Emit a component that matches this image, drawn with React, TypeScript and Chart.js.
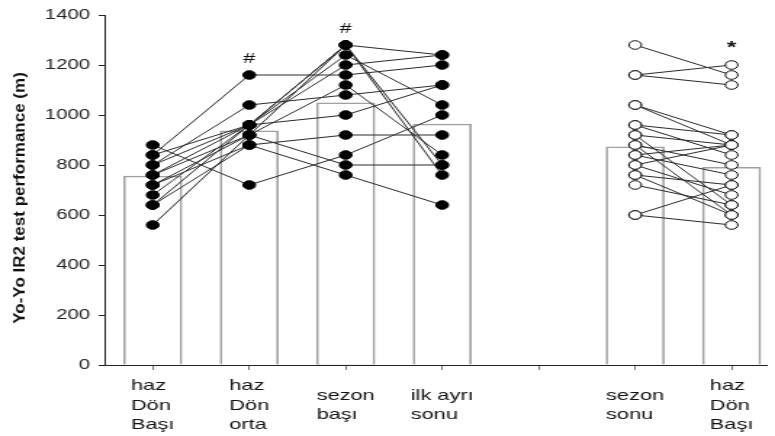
import React, { useEffect, useRef } from 'react';
import { Chart, registerables } from 'chart.js';

Chart.register(...registerables);

// ---------- data ----------
const categoryLabels: string[][] = [
  ['haz', 'Dön', 'Başı'],
  ['haz', 'Dön', 'orta'],
  ['sezon', 'başı'],
  ['ilk ayrı', 'sonu'],
  [],
  ['sezon', 'sonu'],
  ['haz', 'Dön', 'Başı'],
];
const categoryPositions = [1, 2, 3, 4, 5, 6, 7];
const barMeans: (number | null)[] = [756, 937, 1049, 964, null, 873, 791];

const preseasonTimepoints = [1, 2, 3, 4];
const preseasonSubjects: number[][] = [
  [880, 720, 840, 1000],
  [840, 1160, 1160, 1200],
  [800, 1040, 1080, 1120],
  [840, 960, 1280, 1240],
  [800, 960, 1240, 1040],
  [760, 960, 1200, 1240],
  [760, 920, 1280, 800],
  [720, 920, 1120, 840],
  [680, 960, 1280, 760],
  [640, 880, 920, 920],
  [560, 920, 800, 800],
  [720, 880, 760, 640],
  [640, 960, 1000, 1120],
];

const seasonTimepoints = [6, 7];
const seasonSubjects: number[][] = [
  [1280, 1160],
  [1160, 1200],
  [1160, 1120],
  [1040, 920],
  [1040, 880],
  [960, 920],
  [960, 840],
  [920, 880],
  [920, 640],
  [880, 800],
  [880, 600],
  [840, 880],
  [840, 760],
  [800, 680],
  [800, 880],
  [760, 720],
  [760, 600],
  [720, 640],
  [600, 720],
  [600, 560],
];

const yTickValues = [0, 200, 400, 600, 800, 1000, 1200, 1400];
const markerCategories = [2, 3, 7];
const markerSymbols = ['#', '#', '*'];
const yAxisTitle = 'Yo-Yo IR2 test performance (m)';

// ---------- layout / style ----------
const DISPLAY_W = 775;
const DISPLAY_H = 436;
const SX = 1.45; // horizontal stretch of the reference
const INTERNAL_W = Math.round(DISPLAY_W / SX);
const FONT = '"Liberation Sans", Arial, Helvetica, sans-serif';

function toPoints(xs: number[], ys: number[]) {
  return ys.map((v, i) => ({ x: xs[i], y: v }));
}

const overlayPlugin = {
  id: 'overlay',
  afterDraw(chart: any) {
    const { ctx, chartArea, scales } = chart;
    const xs = scales.x;
    const ys = scales.y;
    ctx.save();
    // category labels
    ctx.font = `15px ${FONT}`;
    ctx.fillStyle = '#111';
    ctx.textAlign = 'left';
    ctx.textBaseline = 'alphabetic';
    const lh = 19.5;
    const centerY = chartArea.bottom + 44.5;
    categoryLabels.forEach((lines, i) => {
      if (!lines.length) return;
      const px = xs.getPixelForValue(categoryPositions[i]);
      const w = Math.max(...lines.map((l) => ctx.measureText(l).width));
      const y0 = centerY - ((lines.length - 1) / 2) * lh;
      lines.forEach((l, j) => ctx.fillText(l, px - w / 2, y0 + j * lh));
    });
    // significance markers
    ctx.textAlign = 'center';
    markerCategories.forEach((cat, i) => {
      const vals: number[] = [];
      preseasonSubjects.forEach((s) => {
        const k = preseasonTimepoints.indexOf(cat);
        if (k >= 0) vals.push(s[k]);
      });
      seasonSubjects.forEach((s) => {
        const k = seasonTimepoints.indexOf(cat);
        if (k >= 0) vals.push(s[k]);
      });
      const top = ys.getPixelForValue(Math.max(...vals));
      const sym = markerSymbols[i];
      ctx.font = sym === '*' ? `bold 17px ${FONT}` : `15px ${FONT}`;
      ctx.fillStyle = '#111';
      ctx.fillText(sym, xs.getPixelForValue(cat), top - 12);
    });
    // y axis title (drawn undistorted)
    ctx.save();
    ctx.translate(13.4, (chartArea.top + chartArea.bottom) / 2 + 8);
    ctx.scale(1 / SX, 1);
    ctx.rotate(-Math.PI / 2);
    ctx.font = `bold 17px ${FONT}`;
    ctx.fillStyle = '#111';
    ctx.textAlign = 'center';
    ctx.textBaseline = 'middle';
    ctx.fillText(yAxisTitle, 0, 0);
    ctx.restore();
    ctx.restore();
  },
};

export default function App() {
  const canvasRef = useRef<HTMLCanvasElement | null>(null);

  useEffect(() => {
    document.body.style.margin = '0';
    const canvas = canvasRef.current;
    if (!canvas) return;

    const barData = barMeans
      .map((v, i) => (v == null ? null : { x: categoryPositions[i], y: v }))
      .filter((p) => p !== null);

    const lineSets: any[] = [];
    preseasonSubjects.forEach((s) => {
      lineSets.push({
        type: 'line',
        data: toPoints(preseasonTimepoints, s),
        borderColor: '#2a2a2a',
        borderWidth: 1,
        pointRadius: 0,
        fill: false,
        order: 2,
      });
    });
    seasonSubjects.forEach((s) => {
      lineSets.push({
        type: 'line',
        data: toPoints(seasonTimepoints, s),
        borderColor: '#2a2a2a',
        borderWidth: 1,
        pointRadius: 0,
        fill: false,
        order: 2,
      });
    });

    const filledPoints: any[] = [];
    preseasonSubjects.forEach((s) => filledPoints.push(...toPoints(preseasonTimepoints, s)));
    const openPoints: any[] = [];
    seasonSubjects.forEach((s) => openPoints.push(...toPoints(seasonTimepoints, s)));

    const chart = new Chart(canvas, {
      type: 'bar',
      data: {
        datasets: [
          {
            type: 'bar',
            data: barData as any,
            backgroundColor: '#ffffff',
            borderColor: '#a0a0a0',
            borderWidth: 1.6,
            barThickness: 40,
            order: 3,
          } as any,
          ...lineSets,
          {
            type: 'line',
            data: filledPoints,
            showLine: false,
            pointRadius: 4.3,
            pointBackgroundColor: '#000',
            pointBorderColor: '#000',
            pointBorderWidth: 1,
            order: 1,
          },
          {
            type: 'line',
            data: openPoints,
            showLine: false,
            pointRadius: 4.3,
            pointBackgroundColor: '#fff',
            pointBorderColor: '#111',
            pointBorderWidth: 1,
            order: 0,
          },
        ],
      },
      options: {
        responsive: false,
        animation: false,
        devicePixelRatio: 1,
        layout: { padding: { top: 15, right: 0, left: 0, bottom: 0 } },
        plugins: {
          legend: { display: false },
          tooltip: { enabled: false },
          title: { display: false },
        },
        scales: {
          x: {
            type: 'linear',
            min: 0.5,
            max: 7.37,
            offset: false,
            grid: {
              display: true,
              drawOnChartArea: false,
              drawTicks: true,
              tickLength: 5,
              color: '#777',
              offset: false,
            },
            border: { display: true, color: '#222', width: 1 },
            ticks: {
              callback: () => '',
            },
            afterBuildTicks: (scale: any) => {
              scale.ticks = categoryPositions.map((v) => ({ value: v }));
            },
            afterFit: (scale: any) => {
              scale.height = 71;
            },
          } as any,
          y: {
            type: 'linear',
            min: 0,
            max: 1400,
            grid: {
              display: true,
              drawOnChartArea: false,
              drawTicks: true,
              tickLength: 4,
              color: '#222',
            },
            border: { display: true, color: '#222', width: 1 },
            ticks: {
              stepSize: 200,
              padding: 6,
              color: '#222',
              font: { family: FONT, size: 14 },
              callback: (v: any) => String(v),
            },
            afterBuildTicks: (scale: any) => {
              scale.ticks = yTickValues.map((v) => ({ value: v }));
            },
            afterFit: (scale: any) => {
              scale.width = 72;
            },
          } as any,
        },
      },
      plugins: [overlayPlugin],
    } as any);

    return () => chart.destroy();
  }, []);

  return (
    <div style={{ position: 'fixed', left: 0, top: 0, width: DISPLAY_W, height: DISPLAY_H, background: '#fff' }}>
      <canvas
        ref={canvasRef}
        width={INTERNAL_W}
        height={DISPLAY_H}
        style={{ width: `${DISPLAY_W}px`, height: `${DISPLAY_H}px`, display: 'block' }}
      />
    </div>
  );
}
